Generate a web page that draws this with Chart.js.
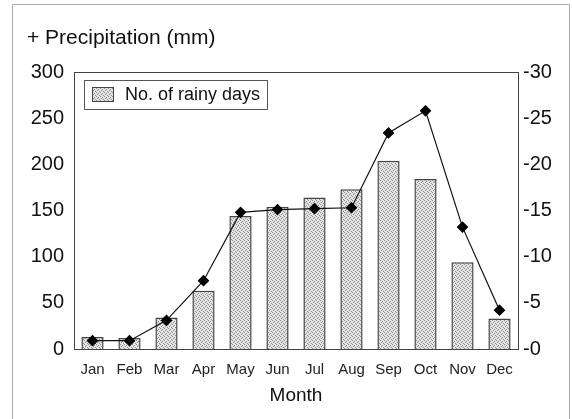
<!DOCTYPE html>
<html>
<head>
<meta charset="utf-8">
<script src="https://cdn.jsdelivr.net/npm/chart.js@4/dist/chart.umd.min.js"></script>
<style>
  body { margin: 0; background: #fff; }
  #wrap { width: 572px; height: 419px; }
</style>
</head>
<body>
<div id="wrap"><canvas id="myChart" width="572" height="419"></canvas></div>
<script>
const months = ['Jan', 'Feb', 'Mar', 'Apr', 'May', 'Jun', 'Jul', 'Aug', 'Sep', 'Oct', 'Nov', 'Dec'];
const precipitation = [9, 9, 31, 74, 148, 151, 152, 153, 234, 258, 132, 42];
const rainyDays = [1.3, 1.2, 3.4, 6.3, 14.4, 15.4, 16.4, 17.3, 20.4, 18.4, 9.4, 3.3];
const precipTicks = [0, 50, 100, 150, 200, 250, 300];
const dayTicks = [0, 5, 10, 15, 20, 25, 30];

const FONT = '"Liberation Sans", Arial, sans-serif';

// stipple fill for the bars
function makeStipple() {
    const c = document.createElement('canvas');
    c.width = 4; c.height = 4;
    const g = c.getContext('2d');
    g.fillStyle = '#e4e4e4';
    g.fillRect(0, 0, 4, 4);
    g.fillStyle = '#8c8c8c';
    [[0, 0], [2, 1], [1, 2], [3, 3]].forEach(p => g.fillRect(p[0], p[1], 1, 1));
    return g.createPattern(c, 'repeat');
}

const ctx = document.getElementById('myChart');
const stipple = makeStipple();

const decor = {
    id: 'decor',
    beforeDatasetsDraw(chart) {
        const c = chart.ctx;
        const a = chart.chartArea;
        c.save();
        // outer frame
        c.strokeStyle = '#aaaaaa';
        c.lineWidth = 1;
        c.beginPath();
        c.moveTo(12.5, 419); c.lineTo(12.5, 4.5); c.lineTo(569.5, 4.5); c.lineTo(569.5, 419);
        c.stroke();
        // plot frame
        c.strokeStyle = '#444';
        c.strokeRect(Math.round(a.left) + 0.5, Math.round(a.top) + 0.5, Math.round(a.right - a.left), Math.round(a.bottom - a.top));
        // axis title
        c.fillStyle = '#111';
        c.font = '21px ' + FONT;
        c.textBaseline = 'middle';
        c.textAlign = 'left';
        c.fillText('+ Precipitation (mm)', 27, 38);
        c.restore();
    },
    afterDatasetsDraw(chart) {
        const c = chart.ctx;
        const ds = chart.data.datasets[1];
        c.save();
        c.fillStyle = '#fff';
        c.fillRect(84, 80, 183, 29);
        c.strokeStyle = '#555';
        c.lineWidth = 1;
        c.strokeRect(84.5, 80.5, 183, 29);
        c.fillStyle = stipple;
        c.fillRect(92, 87, 22, 15);
        c.strokeStyle = '#444';
        c.strokeRect(92.5, 87.5, 21, 14);
        c.fillStyle = '#111';
        c.font = '18px ' + FONT;
        c.textBaseline = 'middle';
        c.fillText(ds.label, 125, 95);
        c.restore();
    }
};

new Chart(ctx, {
    data: {
        labels: months,
        datasets: [{
            type: 'line',
            label: 'Precipitation (mm)',
            data: precipitation,
            yAxisID: 'y',
            borderColor: '#111',
            borderWidth: 1.2,
            pointStyle: 'rectRot',
            pointRadius: 5,
            pointBackgroundColor: '#000',
            pointBorderColor: '#000',
            tension: 0,
            order: 0
        }, {
            type: 'bar',
            label: 'No. of rainy days',
            data: rainyDays,
            yAxisID: 'y2',
            backgroundColor: stipple,
            borderColor: '#444',
            borderWidth: 1.5,
            barPercentage: 0.6,
            categoryPercentage: 1,
            order: 1
        }]
    },
    options: {
        responsive: false,
        animation: false,
        layout: { padding: { top: 72 } },
        plugins: {
            legend: { display: false },
            tooltip: { enabled: false }
        },
        scales: {
            x: {
                offset: true,
                grid: { display: false, drawTicks: false },
                border: { display: false },
                ticks: { color: '#222', font: { family: FONT, size: 15 }, padding: 12, maxRotation: 0, autoSkip: false },
                title: { display: true, text: 'Month', color: '#111', font: { family: FONT, size: 19 }, padding: { top: 0, bottom: 12 } },
                afterFit: s => { s.height = 70; }
            },
            y: {
                position: 'left',
                min: 0, max: 300,
                afterBuildTicks: s => { s.ticks = precipTicks.map(v => ({ value: v })); },
                grid: { display: false, drawTicks: false },
                border: { display: false },
                ticks: { color: '#111', font: { family: FONT, size: 20 }, padding: 10 },
                afterFit: s => { s.width = 74; }
            },
            y2: {
                position: 'right',
                min: 0, max: 30,
                afterBuildTicks: s => { s.ticks = dayTicks.map(v => ({ value: v })); },
                grid: { display: false, drawTicks: false },
                border: { display: false },
                ticks: { color: '#111', font: { family: FONT, size: 20 }, padding: 5, callback: v => '-' + v },
                afterFit: s => { s.width = 54; }
            }
        }
    },
    plugins: [decor]
});
</script>
</body>
</html>
